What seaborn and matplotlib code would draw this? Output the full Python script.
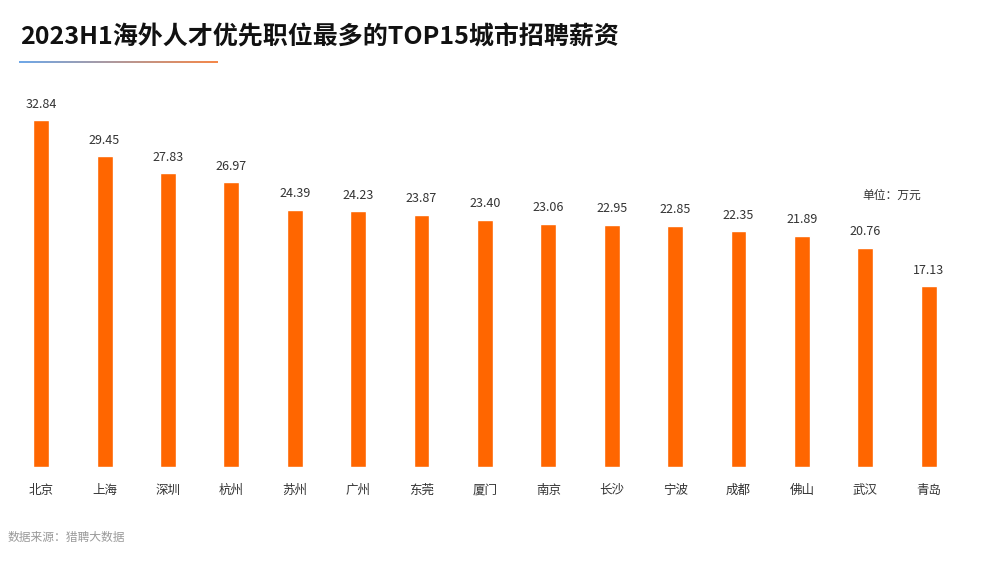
import numpy as np
import pandas as pd
import seaborn as sns
import matplotlib.pyplot as plt
from matplotlib.colors import LinearSegmentedColormap

# 数据
cities = ['北京', '上海', '深圳', '杭州', '苏州', '广州', '东莞', '厦门',
          '南京', '长沙', '宁波', '成都', '佛山', '武汉', '青岛']
salary = [32.84, 29.45, 27.83, 26.97, 24.39, 24.23, 23.87, 23.40,
          23.06, 22.95, 22.85, 22.35, 21.89, 20.76, 17.13]

df = pd.DataFrame({'city': cities, 'salary': salary})

sns.set_style('white')
plt.rcParams['font.family'] = ['Noto Sans CJK SC', 'DejaVu Sans']

fig = plt.figure(figsize=(9.81, 5.67), dpi=100)
ax = fig.add_axes([0.0097, 0.176, 0.9693, 0.647])

sns.barplot(data=df, x='city', y='salary', color='#FF6600', saturation=1,
            width=0.25, ax=ax)

for i, v in enumerate(salary):
    ax.text(i, v + 0.9, f'{v:.2f}', ha='center', va='bottom',
            fontsize=9, color='#333333')

ax.set_ylim(0, 34.72)
ax.set_xlim(-0.5, len(cities) - 0.5)
ax.set_xlabel('')
ax.set_ylabel('')
ax.set_yticks([])
ax.tick_params(axis='x', length=0, pad=12, labelsize=9, labelcolor='#333333')
for s in ax.spines.values():
    s.set_visible(False)

# 标题
fig.text(20 / 981, 1 - 37 / 567, '2023H1海外人才优先职位最多的TOP15城市招聘薪资',
         fontsize=18, fontweight='bold', color='#111111', va='center', ha='left')

# 渐变下划线
cmap = LinearSegmentedColormap.from_list('g', ['#6fa8e8', '#f5884a'])
lax = fig.add_axes([19 / 981, 1 - 63.5 / 567, 199 / 981, 2.5 / 567])
lax.imshow(np.linspace(0, 1, 200).reshape(1, -1), aspect='auto', cmap=cmap)
lax.axis('off')

# 单位
fig.text(862 / 981, 1 - 195 / 567, '单位：万元', fontsize=8.5, color='#333333',
         va='center', ha='left')

# 数据来源
fig.text(8 / 981, 1 - 537 / 567, '数据来源：猎聘大数据', fontsize=8.5,
         color='#999999', va='center', ha='left')

fig.savefig('out.png', dpi=100)
